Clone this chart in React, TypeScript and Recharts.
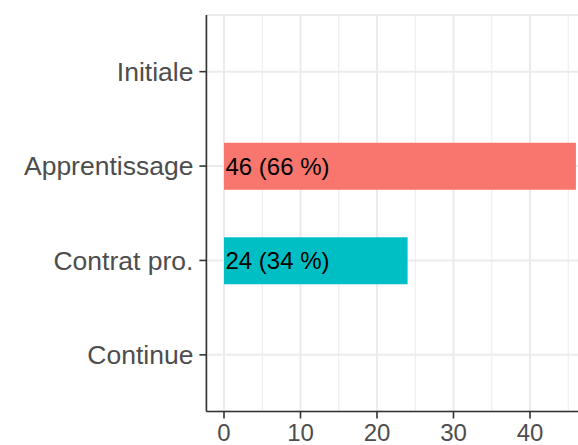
import { BarChart, Bar, XAxis, YAxis, CartesianGrid, LabelList, Cell } from 'recharts';

const categories = ['Initiale', 'Apprentissage', 'Contrat pro.', 'Continue'];
const counts = [0, 46, 24, 0];
const percents = [0, 66, 34, 0];
const majorTicks = [0, 10, 20, 30, 40];
const minorTicks = [5, 15, 25, 35, 45];

const fills: Record<string, string> = {
    Apprentissage: '#F8766D',
    'Contrat pro.': '#00BFC4',
};

const data = categories.map((name, i) => ({
    name,
    n: counts[i],
    label: counts[i] > 0 ? `${counts[i]} (${percents[i]} %)` : '',
}));

const font = 'Arial, Helvetica, sans-serif';
const grid = '#EBEBEB';
const ink = '#333333';

export default function App() {
    return (
        <div style={{ position: 'absolute', left: 0, top: 0, width: 578, height: 445, overflow: 'hidden', background: '#fff', fontFamily: font }}>
            <BarChart
                width={620}
                height={445}
                data={data}
                layout="vertical"
                margin={{ top: 15, right: 26.5, bottom: 0, left: 0 }}
            >
                <CartesianGrid horizontal={false} verticalValues={minorTicks} stroke={grid} strokeWidth={1} />
                <CartesianGrid stroke={grid} strokeWidth={2} />
                <XAxis
                    type="number"
                    dataKey="n"
                    domain={[-2.3, 48.3]}
                    ticks={majorTicks}
                    allowDataOverflow
                    height={33.5}
                    tickSize={7}
                    tickMargin={5.5}
                    stroke={ink}
                    strokeWidth={1.6}
                    tick={{ fill: '#4D4D4D', fontSize: 24, fontFamily: font }}
                />
                <XAxis
                    xAxisId="top"
                    type="number"
                    orientation="top"
                    domain={[-2.3, 48.3]}
                    height={0}
                    tick={false}
                    tickLine={false}
                    stroke={ink}
                    strokeWidth={1.6}
                />
                <YAxis
                    type="category"
                    dataKey="name"
                    width={206.4}
                    padding={{ top: 9.45, bottom: 9.45 }}
                    tickSize={7}
                    tickMargin={6}
                    stroke={ink}
                    strokeWidth={1.6}
                    tick={{ fill: '#4D4D4D', fontSize: 26.5, fontFamily: font }}
                />
                <Bar dataKey="n" barSize={47} isAnimationActive={false}>
                    {data.map((d, i) => (
                        <Cell key={`c-${i}`} fill={fills[d.name] || '#999'} />
                    ))}
                    <LabelList dataKey="label" position="insideLeft" offset={1.5} fill="#000" fontSize={24} fontFamily={font} />
                </Bar>
            </BarChart>
        </div>
    );
}
